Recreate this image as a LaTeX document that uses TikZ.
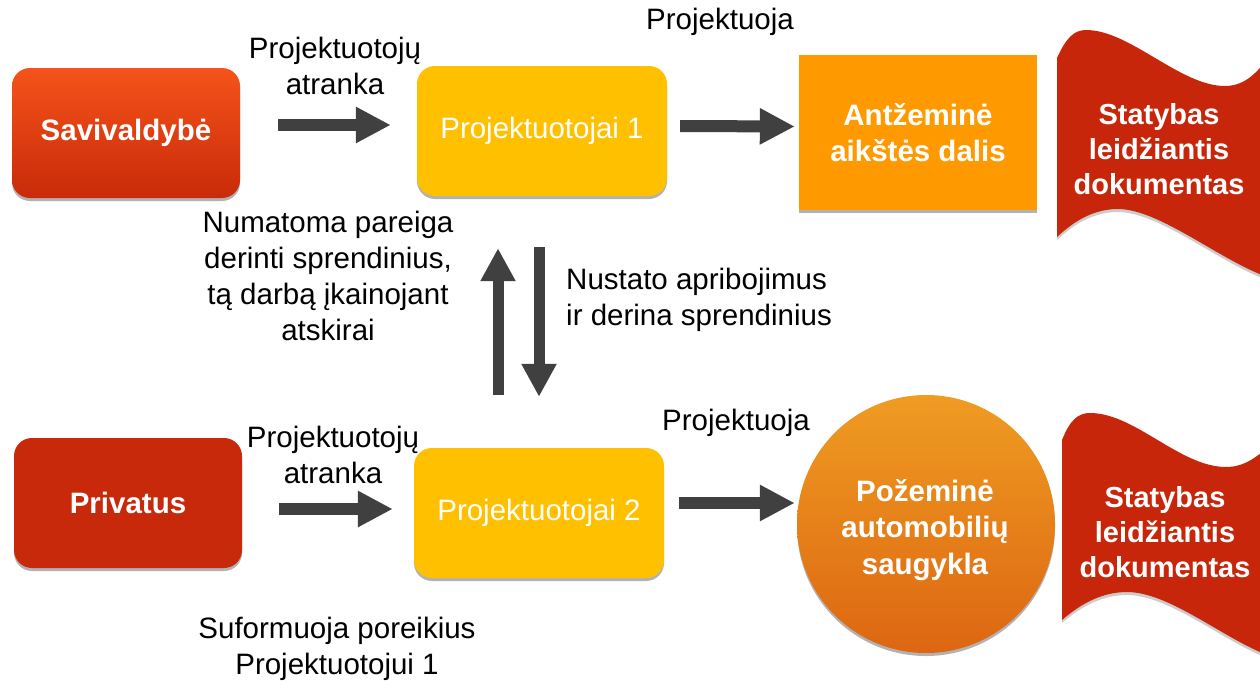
\documentclass[tikz,border=0pt]{standalone}
\usepackage{fontspec}
\setmainfont{Liberation Sans}
\usetikzlibrary{arrows.meta,shadows}

\definecolor{savtop}{HTML}{F5531A}
\definecolor{savbot}{HTML}{C92A09}
\definecolor{privred}{HTML}{C8290A}
\definecolor{projyel}{HTML}{FFC000}
\definecolor{antzor}{HTML}{FF9900}
\definecolor{circtop}{HTML}{EF9C22}
\definecolor{circbot}{HTML}{DD6612}
\definecolor{bannerred}{HTML}{C8260A}
\definecolor{arrowgray}{HTML}{404040}

\begin{document}
\begin{tikzpicture}[x=1pt,y=-1pt,
  txt/.style={font=\fontsize{29.5}{36}\selectfont},
  label/.style={txt, align=center, text=black, inner sep=0pt},
  softshadow/.style={drop shadow={shadow xshift=0pt, shadow yshift=-3pt, opacity=0.3, fill=black}},
  roundbox/.style={txt, rounded corners=18pt, minimum height=130pt, inner sep=0pt, text=white, align=center, softshadow},
  bannertext/.style={font=\fontsize{29}{35}\selectfont\bfseries, text=white, align=center, inner sep=0pt},
  blockarrow/.style={draw=arrowgray, line width=12pt, -{Triangle[length=35pt,width=34pt]}, arrowgray},
  vblockarrow/.style={draw=arrowgray, line width=11pt, -{Triangle[length=33pt,width=33pt]}, arrowgray}
]
\useasboundingbox (0,0) rectangle (1260,680);

% source boxes
\node[roundbox, minimum width=228pt, top color=savtop, bottom color=savbot, font=\fontsize{29.5}{36}\selectfont\bfseries]
  (savi) at (126,133) {Savivaldybė};
\node[roundbox, minimum width=228pt, fill=privred, font=\fontsize{29.5}{36}\selectfont\bfseries]
  (priv) at (128,503) {Privatus};

% designer boxes
\node[roundbox, minimum width=250pt, fill=projyel] (proj1) at (542,131) {Projektuotojai 1};
\node[roundbox, minimum width=250pt, fill=projyel] (proj2) at (539,513) {Projektuotojai 2};

% results
\node[txt, font=\fontsize{29.5}{36}\selectfont\bfseries, fill=antzor, text=white, align=center,
  minimum width=238pt, minimum height=155pt, inner sep=0pt, softshadow]
  (antz) at (918,132.5) {Antžeminė\\aikštės dalis};
\node[circle, minimum size=258pt, inner sep=0pt, top color=circtop, bottom color=circbot, softshadow]
  (pozem) at (926,524) {};
\node[font=\fontsize{29.5}{36.5}\selectfont\bfseries, text=white, align=center, inner sep=0pt]
  (pozemtext) at (925,530) {Požeminė\\automobilių\\saugykla};

% permit banners
\fill[bannerred, drop shadow={shadow xshift=0pt, shadow yshift=-3pt, opacity=0.2, fill=black}]
  (1057,58) .. controls (1066,38) and (1074,30) .. (1086,30)
  .. controls (1130,30) and (1180,86) .. (1225,86)
  .. controls (1245,86) and (1258,72) .. (1270,55)
  -- (1270,278)
  .. controls (1222,262) and (1160,209) .. (1118,209)
  .. controls (1090,209) and (1070,225) .. (1057,237) -- cycle;
\node[bannertext] (permit1) at (1159,149) {Statybas\\leidžiantis\\dokumentas};

\fill[bannerred, drop shadow={shadow xshift=0pt, shadow yshift=-3pt, opacity=0.2, fill=black}]
  (1062,440) .. controls (1070,420) and (1078,413) .. (1090,413)
  .. controls (1135,413) and (1180,467) .. (1226,467)
  .. controls (1245,467) and (1258,456) .. (1270,445)
  -- (1270,656)
  .. controls (1225,640) and (1170,592) .. (1127,592)
  .. controls (1098,592) and (1076,608) .. (1062,620) -- cycle;
\node[bannertext] (permit2) at (1165,532) {Statybas\\leidžiantis\\dokumentas};

% text labels
\node[label] (sel1) at (335,66) {Projektuotojų\\atranka};
\node[label] (des1) at (720,22) {Projektuoja};
\node[label] (duty) at (328,276) {Numatoma pareiga\\derinti sprendinius,\\tą darbą įkainojant\\atskirai};
\node[label, anchor=west, align=left] (limits) at (566,300) {Nustato apribojimus\\ir derina sprendinius};
\node[label] (sel2) at (333,455) {Projektuotojų\\atranka};
\node[label] (des2) at (736,423) {Projektuoja};
\node[label] (needs) at (337,649) {Suformuoja poreikius\\Projektuotojui 1};

% arrows
\draw[blockarrow] ([xshift=38pt,yshift=8pt]savi.east) -- ([xshift=-26pt,yshift=6pt]proj1.west);
\draw[blockarrow] ([xshift=13pt,yshift=5pt]proj1.east) -- ([xshift=-4pt,yshift=6pt]antz.west);
\draw[blockarrow] ([xshift=37pt,yshift=-6pt]priv.east) -- ([xshift=-21pt,yshift=4pt]proj2.west);
\draw[blockarrow] ([xshift=15pt,yshift=10pt]proj2.east) -- ([xshift=-2pt,yshift=21pt]pozem.west);
\draw[vblockarrow] ([xshift=-41pt,yshift=53pt]proj2.north) -- ([xshift=-44pt,yshift=-52pt]proj1.south);
\draw[vblockarrow] ([xshift=-3pt,yshift=-51pt]proj1.south) -- ([xshift=0pt,yshift=51pt]proj2.north);
\end{tikzpicture}
\end{document}
